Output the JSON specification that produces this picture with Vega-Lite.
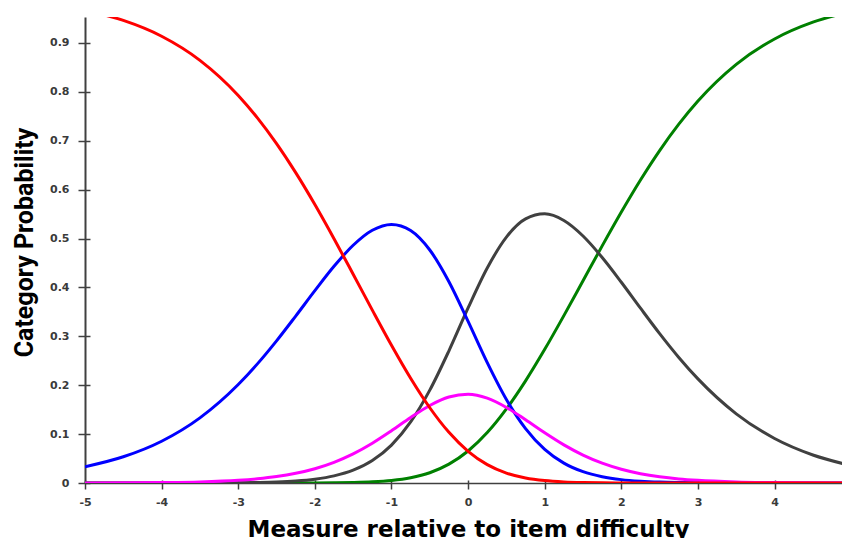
{
  "$schema": "https://vega.github.io/schema/vega-lite/v6.json",
  "width": 757,
  "height": 466,
  "autosize": {"type": "none"},
  "padding": {"left": 85, "top": 17, "right": 0, "bottom": 55},
  "background": "white",
  "config": {"view": {"stroke": null}},
  "data": {"values": [
    {"t": -5, "p0": 0.9666, "p1": 0.0332, "p2": 0.0001, "p3": 0, "p4": 0},
    {"t": -4.5, "p0": 0.9460, "p1": 0.0536, "p2": 0.0003, "p3": 0, "p4": 0},
    {"t": -4, "p0": 0.9137, "p1": 0.0854, "p2": 0.0009, "p3": 0, "p4": 0},
    {"t": -3.5, "p0": 0.8644, "p1": 0.1332, "p2": 0.0022, "p3": 0.0001, "p4": 0},
    {"t": -3, "p0": 0.7926, "p1": 0.2014, "p2": 0.0055, "p3": 0.0005, "p4": 0},
    {"t": -2.75, "p0": 0.7467, "p1": 0.2436, "p2": 0.0086, "p3": 0.0011, "p4": 0},
    {"t": -2.5, "p0": 0.6940, "p1": 0.2907, "p2": 0.0131, "p3": 0.0021, "p4": 0},
    {"t": -2.25, "p0": 0.6347, "p1": 0.3414, "p2": 0.0198, "p3": 0.0041, "p4": 0.0001},
    {"t": -2, "p0": 0.5695, "p1": 0.3933, "p2": 0.0292, "p3": 0.0078, "p4": 0.0002},
    {"t": -1.75, "p0": 0.4996, "p1": 0.4431, "p2": 0.0423, "p3": 0.0145, "p4": 0.0005},
    {"t": -1.5, "p0": 0.4269, "p1": 0.4862, "p2": 0.0595, "p3": 0.0262, "p4": 0.0011},
    {"t": -1.25, "p0": 0.3535, "p1": 0.5169, "p2": 0.0813, "p3": 0.0460, "p4": 0.0024},
    {"t": -1, "p0": 0.2817, "p1": 0.5288, "p2": 0.1068, "p3": 0.0775, "p4": 0.0052},
    {"t": -0.75, "p0": 0.2142, "p1": 0.5164, "p2": 0.1339, "p3": 0.1248, "p4": 0.0108},
    {"t": -0.5, "p0": 0.1539, "p1": 0.4765, "p2": 0.1586, "p3": 0.1899, "p4": 0.0210},
    {"t": -0.25, "p0": 0.1036, "p1": 0.4116, "p2": 0.1759, "p3": 0.2704, "p4": 0.0385},
    {"t": 0, "p0": 0.0648, "p1": 0.3305, "p2": 0.1814, "p3": 0.3580, "p4": 0.0654},
    {"t": 0.25, "p0": 0.0376, "p1": 0.2462, "p2": 0.1735, "p3": 0.4397, "p4": 0.1031},
    {"t": 0.5, "p0": 0.0203, "p1": 0.1708, "p2": 0.1545, "p3": 0.5029, "p4": 0.1515},
    {"t": 0.75, "p0": 0.0103, "p1": 0.1113, "p2": 0.1293, "p3": 0.5402, "p4": 0.2089},
    {"t": 1, "p0": 0.0050, "p1": 0.0688, "p2": 0.1026, "p3": 0.5504, "p4": 0.2733},
    {"t": 1.25, "p0": 0.0023, "p1": 0.0407, "p2": 0.0779, "p3": 0.5368, "p4": 0.3423},
    {"t": 1.5, "p0": 0.0010, "p1": 0.0232, "p2": 0.0571, "p3": 0.5051, "p4": 0.4136},
    {"t": 1.75, "p0": 0.0004, "p1": 0.0129, "p2": 0.0406, "p3": 0.4612, "p4": 0.4849},
    {"t": 2, "p0": 0.0002, "p1": 0.0069, "p2": 0.0282, "p3": 0.4106, "p4": 0.5542},
    {"t": 2.25, "p0": 0.0001, "p1": 0.0037, "p2": 0.0191, "p3": 0.3575, "p4": 0.6197},
    {"t": 2.5, "p0": 0, "p1": 0.0019, "p2": 0.0127, "p3": 0.3055, "p4": 0.6799},
    {"t": 2.75, "p0": 0, "p1": 0.0010, "p2": 0.0083, "p3": 0.2568, "p4": 0.7339},
    {"t": 3, "p0": 0, "p1": 0.0005, "p2": 0.0054, "p3": 0.2129, "p4": 0.7812},
    {"t": 3.5, "p0": 0, "p1": 0.0001, "p2": 0.0022, "p3": 0.1415, "p4": 0.8562},
    {"t": 4, "p0": 0, "p1": 0, "p2": 0.0008, "p3": 0.0910, "p4": 0.9081},
    {"t": 4.5, "p0": 0, "p1": 0, "p2": 0.0003, "p3": 0.0573, "p4": 0.9424},
    {"t": 5, "p0": 0, "p1": 0, "p2": 0.0001, "p3": 0.0356, "p4": 0.9643}
  ]},
  "transform": [{"fold": ["p4", "p3", "p1", "p2", "p0"], "as": ["cat", "p"]}],
  "resolve": {"axis": {"x": "independent", "y": "independent"}},
  "layer": [
    {
      "mark": {"type": "line", "strokeWidth": 3, "clip": true, "interpolate": "monotone"},
      "encoding": {
        "x": {
          "field": "t", "type": "quantitative",
          "scale": {"domain": [-5, 4.88], "nice": false, "zero": false},
          "axis": {
            "orient": "bottom",
            "values": [-5, -4, -3, -2, -1, 0, 1, 2, 3, 4],
            "labelExpr": "'' + datum.value",
            "grid": false,
            "domainColor": "#404040", "domainWidth": 1.5,
            "tickColor": "#404040", "tickWidth": 1.5, "tickSize": 6,
            "labelPadding": 7, "labelFont": "DejaVu Sans", "labelFontWeight": "bold", "labelFontSize": 11, "labelColor": "#3a3a3a",
            "labelFlush": false,
            "title": "Measure relative to item difficulty",
            "titleFont": "DejaVu Sans", "titleFontWeight": "bold", "titleFontSize": 23, "titleColor": "#000",
            "titleX": 383, "titleY": 53, "titleBaseline": "alphabetic", "titleAlign": "center"
          }
        },
        "y": {
          "field": "p", "type": "quantitative",
          "scale": {"domain": [0, 0.953], "nice": false},
          "axis": {
            "orient": "left",
            "values": [0, 0.1, 0.2, 0.3, 0.4, 0.5, 0.6, 0.7, 0.8, 0.9],
            "labelExpr": "'' + datum.value",
            "grid": false,
            "domainColor": "#404040", "domainWidth": 2,
            "tickColor": "#404040", "tickWidth": 1.5, "tickSize": 7,
            "labelPadding": 9, "labelFont": "DejaVu Sans", "labelFontWeight": "bold", "labelFontSize": 11, "labelColor": "#3a3a3a",
            "labelFlush": false,
            "title": "Category Probability",
            "titleFont": "Roboto", "titleFontWeight": "bold", "titleFontSize": 25, "titleColor": "#000",
            "titleX": -53, "titleY": 225, "titleAngle": -90, "titleBaseline": "alphabetic", "titleAlign": "center"
          }
        },
        "color": {
          "field": "cat", "type": "nominal",
          "scale": {"domain": ["p4", "p3", "p1", "p2", "p0"], "range": ["#008000", "#404040", "#0000ff", "#ff00ff", "#ff0000"]},
          "legend": null
        }
      }
    },
    {
      "mark": {"type": "line", "strokeWidth": 0, "opacity": 0, "clip": true},
      "encoding": {
        "x": {
          "field": "t", "type": "quantitative",
          "axis": {
            "orient": "bottom",
            "values": [-5, -4, -3, -2, -1, 0, 1, 2, 3, 4],
            "labels": false, "domain": false, "grid": false, "title": null,
            "tickColor": "#404040", "tickWidth": 1.5, "tickSize": -3
          }
        },
        "y": {
          "field": "p", "type": "quantitative",
          "axis": {
            "orient": "left",
            "values": [0, 0.1, 0.2, 0.3, 0.4, 0.5, 0.6, 0.7, 0.8, 0.9],
            "labels": false, "domain": false, "grid": false, "title": null,
            "tickColor": "#404040", "tickWidth": 1.5, "tickSize": -5
          }
        },
        "detail": {"field": "cat", "type": "nominal"}
      }
    }
  ]
}
